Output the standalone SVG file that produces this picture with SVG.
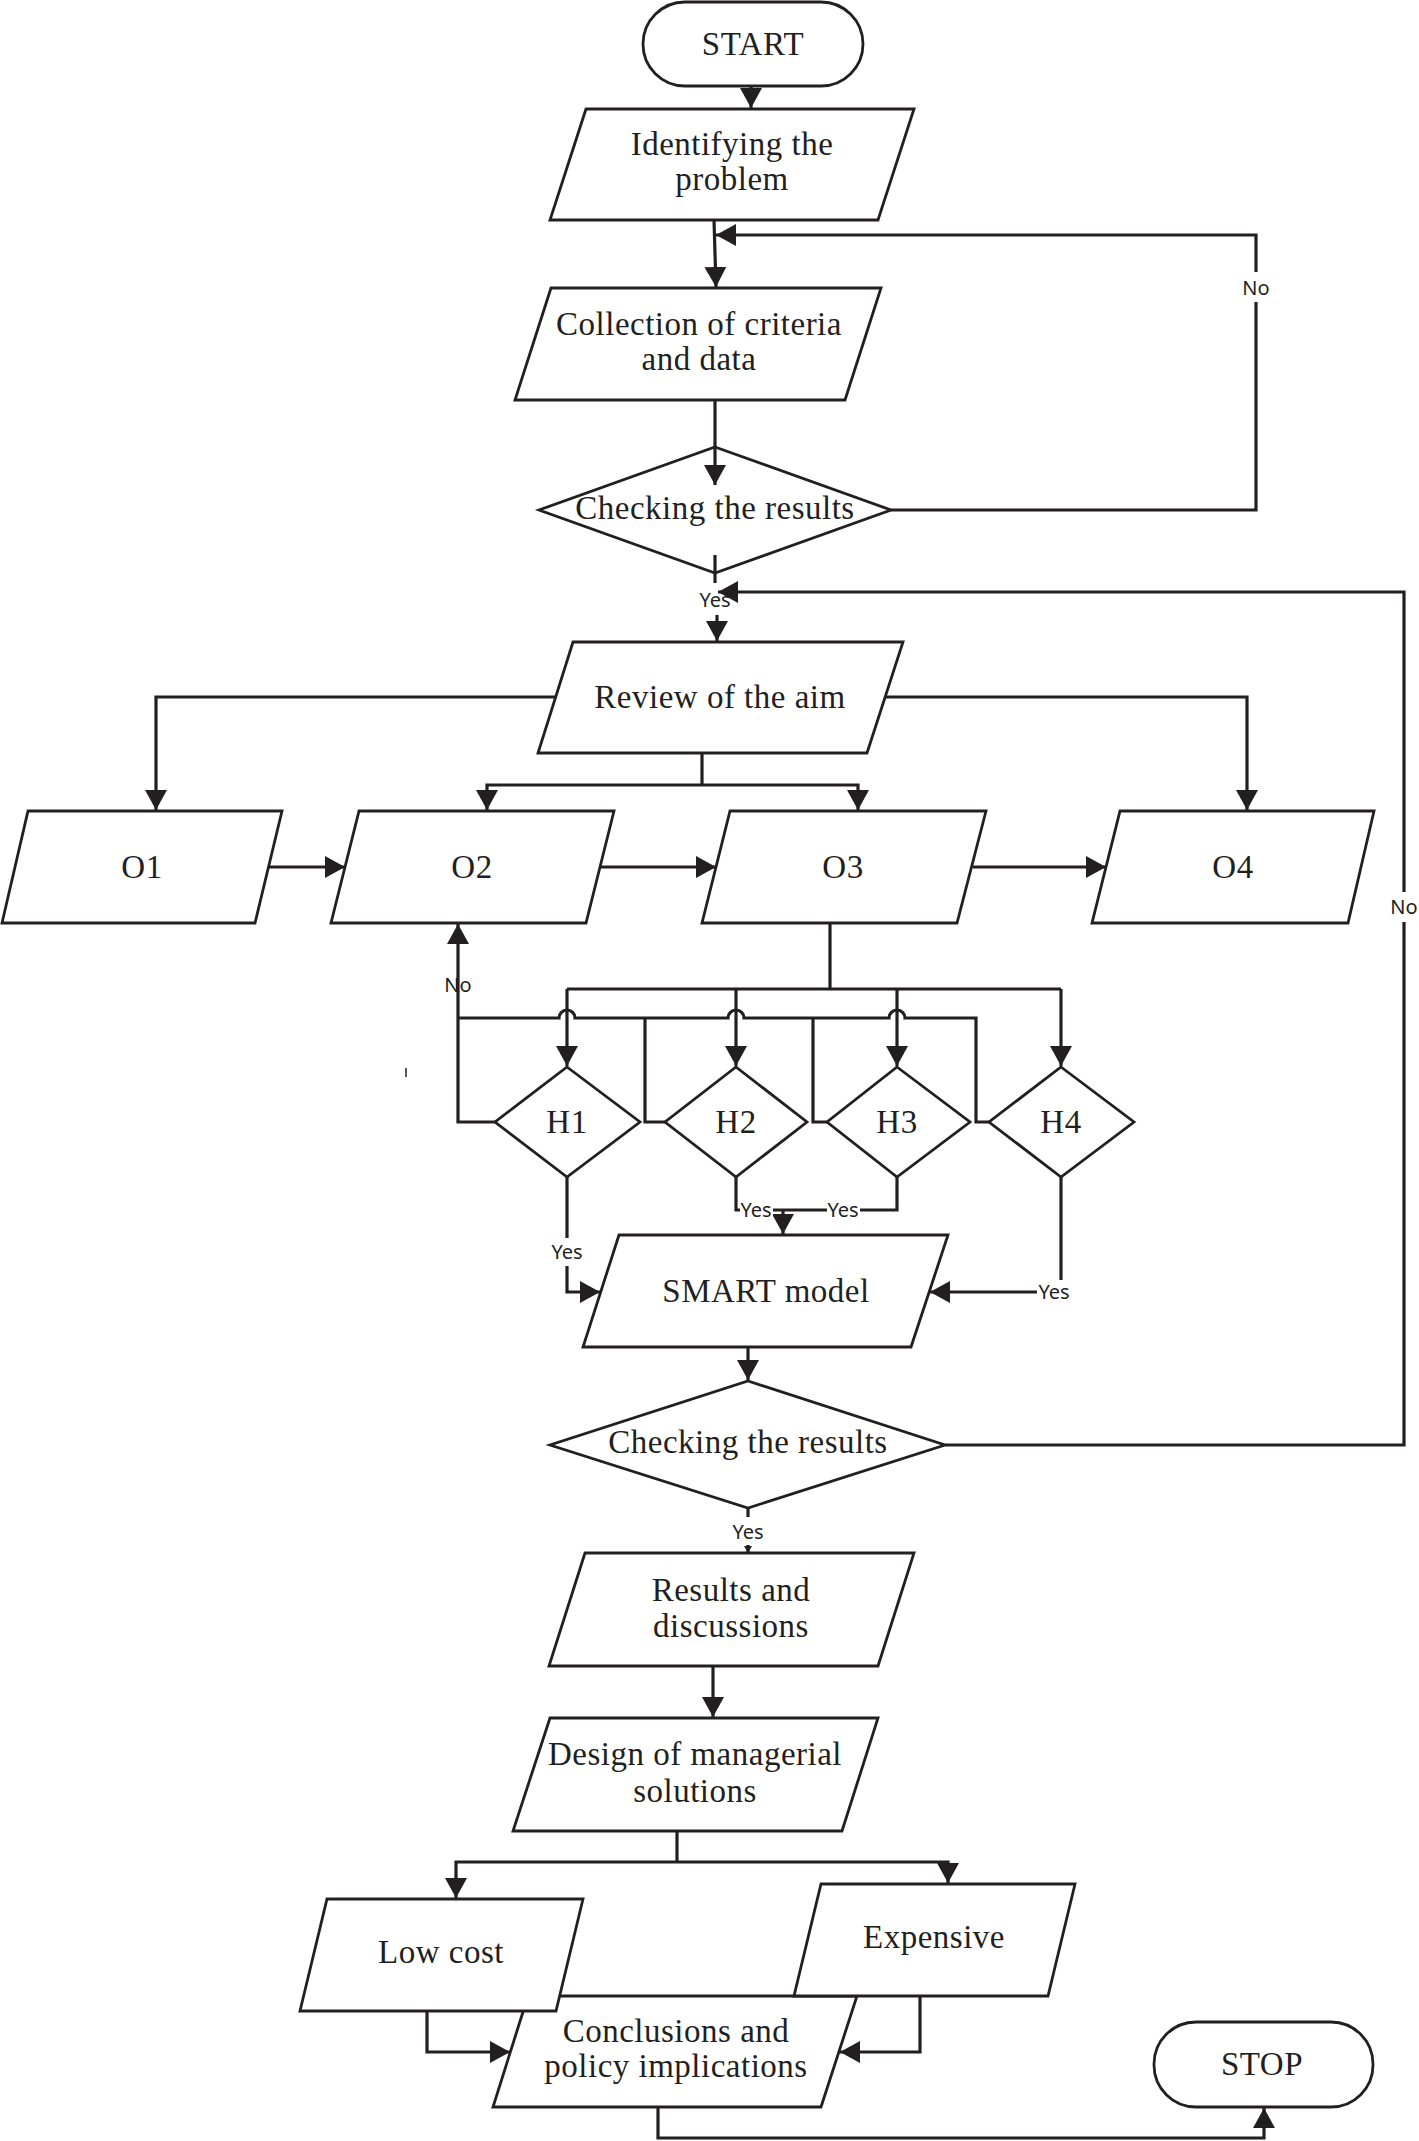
<svg xmlns="http://www.w3.org/2000/svg" width="1419" height="2141" viewBox="0 0 1419 2141">
<style>
.s{fill:#fff;stroke:#231f20;stroke-width:2.8}
.c{fill:none;stroke:#231f20;stroke-width:3.2}
.t{font-family:"Liberation Serif","Times New Roman",serif;font-size:33px;letter-spacing:0.5px;fill:#231f20;text-anchor:middle}
.l{font-family:"Noto Sans","Open Sans",sans-serif;font-size:20px;fill:#231f20;text-anchor:middle}
.bg{fill:#fff;stroke:none}
</style>
<defs>
<marker id="a" markerUnits="userSpaceOnUse" markerWidth="22" markerHeight="22" refX="20" refY="11" orient="auto"><path d="M0,0 L20,11 L0,22 z" fill="#231f20"/></marker>
<marker id="sm" markerUnits="userSpaceOnUse" markerWidth="8" markerHeight="8" refX="7" refY="4" orient="auto"><path d="M0,0 L7,4 L0,8 z" fill="#231f20"/></marker>
</defs>
<rect width="1419" height="2141" fill="#fff"/>
<g id="nodes">
<g id="start"><rect class="s" x="643" y="2" width="220" height="84" rx="42"/><text class="t" x="753" y="55">START</text></g>
<g id="identify"><polygon class="s" points="586,109 914,109 878,220 550,220"/><text class="t" x="732" y="155">Identifying the</text><text class="t" x="732" y="190">problem</text></g>
<g id="collection"><polygon class="s" points="551,288 881,288 845,400 515,400"/><text class="t" x="699" y="335">Collection of criteria</text><text class="t" x="699" y="370">and data</text></g>
<g id="check1"><polygon class="s" points="715,447 891,510 715,573 539,510"/><text class="t" x="715" y="519">Checking the results</text></g>
<g id="review"><polygon class="s" points="573,642 903,642 867,753 538,753"/><text class="t" x="720" y="708">Review of the aim</text></g>
<g id="o1"><polygon class="s" points="28,811 282,811 255,923 2,923"/><text class="t" x="142" y="878">O1</text></g>
<g id="o2"><polygon class="s" points="359,811 614,811 586,923 331,923"/><text class="t" x="472" y="878">O2</text></g>
<g id="o3"><polygon class="s" points="730,811 986,811 957,923 702,923"/><text class="t" x="843" y="878">O3</text></g>
<g id="o4"><polygon class="s" points="1120,811 1374,811 1348,923 1092,923"/><text class="t" x="1233" y="878">O4</text></g>
<g id="h1"><polygon class="s" points="567,1067 640,1122 567,1177 495,1122"/><text class="t" x="567" y="1133">H1</text></g>
<g id="h2"><polygon class="s" points="736,1067 807,1122 736,1177 665,1122"/><text class="t" x="736" y="1133">H2</text></g>
<g id="h3"><polygon class="s" points="897,1067 970,1122 897,1177 827,1122"/><text class="t" x="897" y="1133">H3</text></g>
<g id="h4"><polygon class="s" points="1061,1067 1134,1122 1061,1177 989,1122"/><text class="t" x="1061" y="1133">H4</text></g>
<g id="smart"><polygon class="s" points="619,1235 948,1235 911,1347 583,1347"/><text class="t" x="766" y="1302">SMART model</text></g>
<g id="check2"><polygon class="s" points="748,1381 945,1445 748,1508 550,1445"/><text class="t" x="748" y="1453">Checking the results</text></g>
<g id="results"><polygon class="s" points="585,1553 914,1553 878,1666 549,1666"/><text class="t" x="731" y="1601">Results and</text><text class="t" x="731" y="1637">discussions</text></g>
<g id="design"><polygon class="s" points="550,1718 878,1718 842,1831 513,1831"/><text class="t" x="695" y="1765">Design of managerial</text><text class="t" x="695" y="1802">solutions</text></g>
<g id="conclusions"><polygon class="s" points="528,1996 857,1996 821,2107 493,2107"/><text class="t" x="676" y="2042">Conclusions and</text><text class="t" x="676" y="2077">policy implications</text></g>
<g id="lowcost"><polygon class="s" points="327,1899 583,1899 556,2011 300,2011"/><text class="t" x="441" y="1963">Low cost</text></g>
<g id="expensive"><polygon class="s" points="821,1884 1075,1884 1048,1996 794,1996"/><text class="t" x="934" y="1948">Expensive</text></g>
<g id="stop"><rect class="s" x="1154" y="2022" width="219" height="85" rx="42"/><text class="t" x="1262" y="2075">STOP</text></g>
</g>
<g id="connectors">
<path class="c" d="M751,86 V108" marker-end="url(#a)"/>
<path class="c" d="M714,220 L716,287" marker-end="url(#a)"/>
<path class="c" d="M891,510 H1256 V235 H716" marker-end="url(#a)"/>
<path class="c" d="M715,400 V485" marker-end="url(#a)"/>
<path class="c" d="M715,555 V583"/>
<path class="c" d="M717,615 V641" marker-end="url(#a)"/>
<path class="c" d="M945,1445 H1404 V592 H718" marker-end="url(#a)"/>
<path class="c" d="M556,697 H156 V810" marker-end="url(#a)"/>
<path class="c" d="M885,697 H1247 V810" marker-end="url(#a)"/>
<path class="c" d="M702,753 V785"/>
<path class="c" d="M702,785 H487 V810" marker-end="url(#a)"/>
<path class="c" d="M702,785 H858 V810" marker-end="url(#a)"/>
<path class="c" d="M268,867 H345" marker-end="url(#a)"/>
<path class="c" d="M599,867 H716" marker-end="url(#a)"/>
<path class="c" d="M973,867 H1106" marker-end="url(#a)"/>
<path class="c" d="M830,923 V989"/>
<path class="c" d="M567,989 H1061"/>
<path class="c" d="M567,989 V1066" marker-end="url(#a)"/>
<path class="c" d="M736,989 V1066" marker-end="url(#a)"/>
<path class="c" d="M897,989 V1066" marker-end="url(#a)"/>
<path class="c" d="M1061,989 V1066" marker-end="url(#a)"/>
<path class="c" d="M495,1122 H458 V924" marker-end="url(#a)"/>
<path class="c" d="M458,1018 H559 a8,8 0 0 1 16,0 H728 a8,8 0 0 1 16,0 H889 a8,8 0 0 1 16,0 H976 V1122 H989"/>
<path class="c" d="M645,1018 V1122 H665"/>
<path class="c" d="M813,1018 V1122 H827"/>
<path d="M406,1068 V1077" stroke="#231f20" stroke-width="1.5"/>
<path class="c" d="M567,1177 V1292 H600" marker-end="url(#a)"/>
<path class="c" d="M736,1177 V1210 H897 V1177"/>
<path class="c" d="M783,1210 V1234" marker-end="url(#a)"/>
<path class="c" d="M1061,1177 V1292 H930" marker-end="url(#a)"/>
<path class="c" d="M748,1347 V1380" marker-end="url(#a)"/>
<path class="c" d="M748,1508 V1517"/>
<path class="c" d="M748,1545 V1553" marker-end="url(#sm)"/>
<path class="c" d="M713,1666 V1717" marker-end="url(#a)"/>
<path class="c" d="M677,1831 V1862"/>
<path class="c" d="M677,1862 H456 V1898" marker-end="url(#a)"/>
<path class="c" d="M677,1862 H948 V1883" marker-end="url(#a)"/>
<path class="c" d="M427,2011 V2052 H510" marker-end="url(#a)"/>
<path class="c" d="M920,1996 V2052 H840" marker-end="url(#a)"/>
<path class="c" d="M658,2107 V2138 H1264 V2108" marker-end="url(#a)"/>
<g id="labels">
<rect class="bg" x="1242" y="272" width="28" height="30"/><text class="l" x="1256" y="295">No</text>
<rect class="bg" x="699" y="588" width="12" height="22"/><text class="l" x="715" y="607">Yes</text>
<rect class="bg" x="1390" y="892" width="28" height="30"/><text class="l" x="1404" y="914">No</text>
<rect class="bg" x="445" y="972" width="10" height="8"/><text class="l" x="458" y="992">No</text>
<rect class="bg" x="550" y="1238" width="34" height="28"/><text class="l" x="567" y="1259">Yes</text>
<rect class="bg" x="740" y="1200" width="33" height="20"/><text class="l" x="756" y="1217">Yes</text>
<rect class="bg" x="827" y="1200" width="33" height="20"/><text class="l" x="843" y="1217">Yes</text>
<rect class="bg" x="1037" y="1280" width="35" height="24"/><text class="l" x="1054" y="1299">Yes</text>
<text class="l" x="748" y="1539">Yes</text>
</g>
</g>
</svg>
